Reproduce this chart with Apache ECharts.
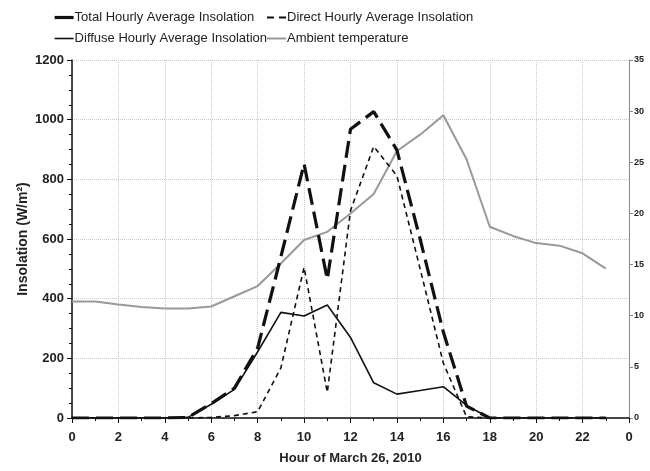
<!DOCTYPE html>
<html>
<head>
<meta charset="utf-8">
<script src="https://cdn.jsdelivr.net/npm/echarts@6/dist/echarts.min.js"></script>
<style>
html,body{margin:0;padding:0;background:#fff;}
#chart{width:650px;height:471px;}
</style>
</head>
<body>
<div id="chart"></div>
<script>
var hours = [0,1,2,3,4,5,6,7,8,9,10,11,12,13,14,15,16,17,18,19,20,21,22,23];
var totalIns = [0,0,0,0,0,2,48,100,235,540,852,465,968,1027,898,600,288,40,0,0,0,0,0,0];
var directIns = [0,0,0,0,0,0,2,8,21,168,505,86,695,910,812,500,184,4,0,0,0,0,0,0];
var diffuseIns = [0,0,0,0,0,2,46,96,222,354,342,379,270,118,80,92,105,42,0,0,0,0,0,0];
var ambientTemp = [11.4,11.4,11.1,10.85,10.7,10.7,10.9,11.9,12.9,15.1,17.4,18.2,20.0,21.9,26.1,27.7,29.6,25.3,18.7,17.8,17.1,16.85,16.1,14.6];
var seriesNames = ['Total Hourly Average Insolation','Direct Hourly Average Insolation','Diffuse Hourly Average Insolation','Ambient temperature'];

function pairs(arr){ return hours.map(function(h,i){ return [h, arr[i]]; }); }

var font = 'Liberation Sans, Arial, sans-serif';
var chart = echarts.init(document.getElementById('chart'), null, {renderer:'canvas'});
chart.setOption({
  animation:false,
  backgroundColor:'#fff',
  textStyle:{fontFamily:font},
  legend:[{
    data:[
      {name:seriesNames[0], lineStyle:{width:3.2, type:'solid'}},
      {name:seriesNames[2], lineStyle:{width:1.6, type:'solid'}}
    ],
    orient:'vertical', left:48, top:6, itemWidth:19, itemHeight:10, itemGap:8,
    itemStyle:{opacity:0},
    textStyle:{fontFamily:font, fontSize:13, color:'#222', padding:[0,0,0,-4]}
  },{
    data:[
      {name:seriesNames[1], lineStyle:{width:1.8, type:[7,5]}},
      {name:seriesNames[3], lineStyle:{width:2, type:'solid'}}
    ],
    orient:'vertical', left:261, top:6, itemWidth:19, itemHeight:10, itemGap:8,
    itemStyle:{opacity:0},
    textStyle:{fontFamily:font, fontSize:13, color:'#222', padding:[0,0,0,-4]}
  }],
  grid:{left:72, right:21, top:60, bottom:53, containLabel:false},
  xAxis:{
    type:'value', min:0, max:24, interval:2,
    name:'Hour of March 26, 2010', nameLocation:'middle', nameGap:34, nameMoveOverlap:false,
    nameTextStyle:{fontFamily:font, fontSize:13, fontWeight:'bold', color:'#222'},
    axisLine:{show:true, lineStyle:{color:'#111', width:1.5}},
    axisTick:{show:true, length:5, lineStyle:{color:'#111', width:1}},
    minorTick:{show:true, splitNumber:2, length:3, lineStyle:{color:'#111'}},
    axisLabel:{fontFamily:font, fontSize:13, fontWeight:'bold', color:'#222', margin:13,
      formatter:function(v){ return v===24 ? '0' : String(v); }},
    splitLine:{show:true, lineStyle:{color:'#c8c8c8', type:'dotted', width:1}}
  },
  yAxis:[{
    type:'value', min:0, max:1200, interval:200,
    name:'Insolation (W/m²)', nameLocation:'middle', nameGap:42, nameMoveOverlap:false,
    nameTextStyle:{fontFamily:font, fontSize:14, fontWeight:'bold', color:'#222'},
    axisLine:{show:true, lineStyle:{color:'#111', width:1.5}},
    axisTick:{show:true, length:5, lineStyle:{color:'#111'}},
    minorTick:{show:true, splitNumber:4, length:3, lineStyle:{color:'#111'}},
    axisLabel:{fontFamily:font, fontSize:13, fontWeight:'bold', color:'#222', margin:8,
      formatter:function(v){ return String(v); }},
    splitLine:{show:true, lineStyle:{color:'#c8c8c8', type:'dotted', width:1}}
  },{
    type:'value', min:0, max:35, interval:5, position:'right',
    axisLine:{show:true, lineStyle:{color:'#8a8a8a', width:1}},
    axisTick:{show:true, length:4, lineStyle:{color:'#8a8a8a'}},
    axisLabel:{fontFamily:font, fontSize:9, fontWeight:'bold', color:'#222', margin:5},
    splitLine:{show:false}
  }],
  series:[{
    name:seriesNames[0], type:'line', data:pairs(totalIns), symbol:'none', z:4,
    itemStyle:{color:'#111'},
    lineStyle:{color:'#111', width:3.2, type:[17,7]}
  },{
    name:seriesNames[1], type:'line', data:pairs(directIns), symbol:'none', z:3,
    itemStyle:{color:'#111'},
    lineStyle:{color:'#111', width:1.6, type:[5,4]}
  },{
    name:seriesNames[2], type:'line', data:pairs(diffuseIns), symbol:'none', z:3,
    itemStyle:{color:'#111'},
    lineStyle:{color:'#111', width:1.6, type:'solid'}
  },{
    name:seriesNames[3], type:'line', yAxisIndex:1, data:pairs(ambientTemp), symbol:'none', z:2,
    itemStyle:{color:'#999'},
    lineStyle:{color:'#999', width:2, type:'solid'}
  }]
});
</script>
</body>
</html>
